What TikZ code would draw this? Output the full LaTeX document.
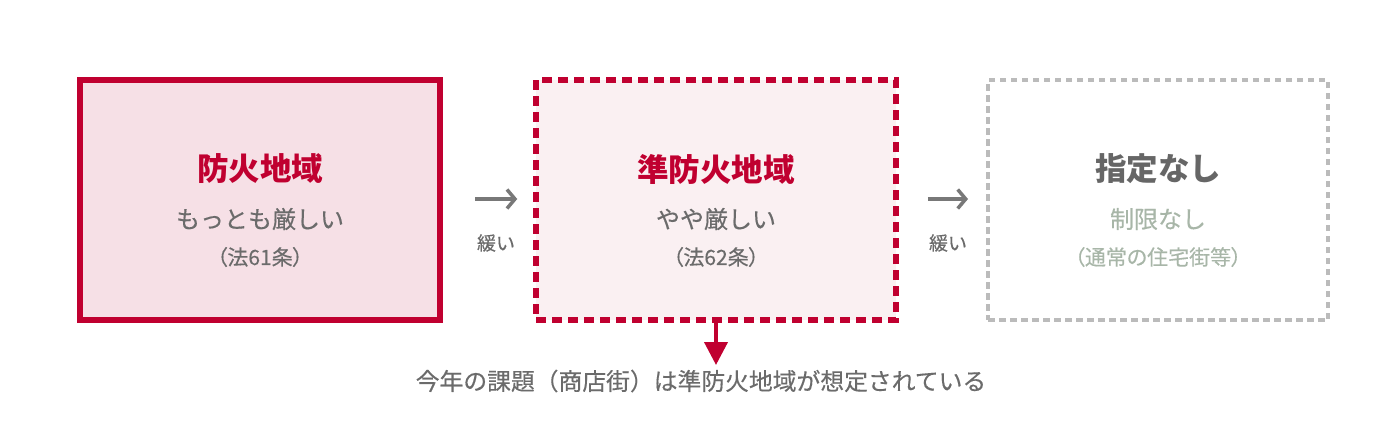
\documentclass[tikz,border=0pt]{standalone}
\usepackage{fontspec}
\setmainfont{Noto Sans CJK JP}
\newfontfamily\cjkmed{Noto Sans CJK JP}[FakeBold=0.35]
\newfontfamily\cjkpalt{Noto Sans CJK JP}[FakeBold=0.35,RawFeature=+palt]
\usetikzlibrary{arrows.meta}
\definecolor{crim}{HTML}{C00030}
\definecolor{txtgray}{HTML}{6B6B6B}
\definecolor{arrgray}{HTML}{787878}
\definecolor{pink1}{HTML}{F6E0E6}
\definecolor{pink2}{HTML}{FAF0F2}
\definecolor{dashgray}{HTML}{BBBBBB}
\definecolor{titlegray}{HTML}{666666}
\definecolor{lightsub}{HTML}{A8B6A8}
\begin{document}
\begin{tikzpicture}[x=1pt,y=-1pt,
  zone/.style={minimum width=360pt,minimum height=240pt,inner sep=0pt},
  ttl/.style={font=\fontsize{31.5}{36}\selectfont\bfseries},
  sub/.style={font=\cjkmed\fontsize{24}{28}\selectfont,text=txtgray},
  law/.style={font=\cjkpalt\fontsize{21}{25}\selectfont,text=txtgray},
  slow/.style={font=\cjkmed\fontsize{19}{23}\selectfont,text=txtgray},
  garrow/.style={draw=arrgray,line width=3.5pt,-{Straight Barb[length=8pt,width=19pt]}},
]
\useasboundingbox (0,0) rectangle (1400,440);
\node[zone,draw=crim,fill=pink1,line width=6pt] (b1) at (260,200) {};
\node[zone,draw=crim,fill=pink2,line width=5.5pt,dash pattern=on 10pt off 6pt] (b2) at (716,200) {};
\node[zone,minimum width=340pt,draw=dashgray,line width=4pt,dash pattern=on 6.5pt off 4.5pt] (b3) at (1158,200) {};

\node[ttl,text=crim] (t1) at (260,169) {防火地域};
\node[sub] (s1) at (260,219) {もっとも厳しい};
\node[law] (l1) at (260,257) {（法61条）};

\node[ttl,text=crim] (t2) at (716,169) {準防火地域};
\node[sub] (s2) at (716,219) {やや厳しい};
\node[law] (l2) at (716,257) {（法62条）};

\node[ttl,text=titlegray] (t3) at (1158,169) {指定なし};
\node[sub,text=lightsub] (s3) at (1158,219) {制限なし};
\node[law,text=lightsub] (l3) at (1158,257) {（通常の住宅街等）};

\draw[garrow,shorten <=32pt,shorten >=16pt] ([yshift=1pt]b1.east) -- ([yshift=1pt]b2.west);
\draw[garrow,shorten <=29pt,shorten >=18pt] ([yshift=1pt]b2.east) -- ([yshift=1pt]b3.west);
\node[slow] (w1) at (496,243) {緩い};
\node[slow] (w2) at (948,243) {緩い};

\node[font=\cjkmed\fontsize{23.8}{28}\selectfont,text=txtgray] (note) at (701,381) {今年の課題（商店街）は準防火地域が想定されている};
\coordinate (tip) at (716,365);
\draw[crim,line width=4pt,-{Triangle[length=23pt,width=23pt]}] (b2.south) -- (tip);
\end{tikzpicture}
\end{document}
